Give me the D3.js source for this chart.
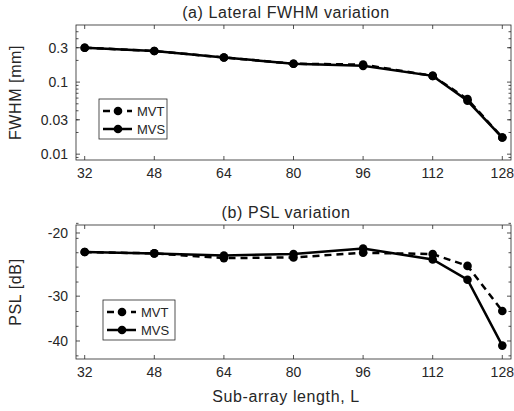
<!DOCTYPE html>
<html>
<head>
<meta charset="utf-8">
<script src="https://cdn.jsdelivr.net/npm/d3@7"></script>
<style>
  body { margin: 0; background: #fff; }
  text { font-family: "Liberation Sans", Arial, sans-serif; fill: #262626; }
  .lbl { font-size: 16px; letter-spacing: 0.6px; }
</style>
</head>
<body>
<div id="chart"></div>
<script>
'use strict';

// sub-array lengths
var lengths = [32, 48, 64, 80, 96, 112, 120, 128];
var xTicks = [32, 48, 64, 80, 96, 112, 128];

// (a) lateral FWHM [mm]
var fwhmMVT = [0.30, 0.27, 0.22, 0.18, 0.175, 0.122, 0.058, 0.017];
var fwhmMVS = [0.30, 0.27, 0.22, 0.18, 0.168, 0.122, 0.055, 0.017];
var fwhmTicks = [0.01, 0.03, 0.1, 0.3];
var fwhmTickLabels = ['0.01', '0.03', '0.1', '0.3'];

// (b) PSL [dB]
var pslMVT = [-22.6, -22.8, -23.5, -23.4, -22.7, -22.9, -24.7, -33.0];
var pslMVS = [-22.6, -22.8, -23.1, -22.9, -22.1, -23.7, -27.0, -41.2];
var pslTicks = [-20, -30, -40];
var pslMinor = [-18.8, -20.7, -22.7, -24.9, -27.4, -33.1, -36.4, -44];

var W = 514, H = 411;
var left = 76, right = 511;
var labelX = 286;

var svg = d3.select('#chart').append('svg')
  .attr('width', W)
  .attr('height', H);

var x = d3.scaleLinear().domain([30, 130]).range([left, right]);

function drawPanel(opt) {
  var top = opt.top, bottom = opt.bottom;
  var y = opt.y.range([bottom, top]);
  var g = svg.append('g');

  // ticks (inside, box on)
  var tk = g.append('g').attr('stroke', '#262626').attr('stroke-width', 0.8);
  xTicks.forEach(function (t) {
    tk.append('line').attr('x1', x(t)).attr('x2', x(t)).attr('y1', bottom).attr('y2', bottom - 4);
    tk.append('line').attr('x1', x(t)).attr('x2', x(t)).attr('y1', top).attr('y2', top + 4);
  });
  opt.ticks.forEach(function (t) {
    tk.append('line').attr('x1', left).attr('x2', left + 4).attr('y1', y(t)).attr('y2', y(t));
    tk.append('line').attr('x1', right).attr('x2', right - 4).attr('y1', y(t)).attr('y2', y(t));
  });
  opt.minor.forEach(function (t) {
    tk.append('line').attr('x1', left).attr('x2', left + 2.5).attr('y1', y(t)).attr('y2', y(t));
    tk.append('line').attr('x1', right).attr('x2', right - 2.5).attr('y1', y(t)).attr('y2', y(t));
  });

  g.append('rect')
    .attr('x', left).attr('y', top)
    .attr('width', right - left).attr('height', bottom - top)
    .attr('fill', 'none').attr('stroke', '#262626').attr('stroke-width', 0.8);

  // tick labels
  g.selectAll('.xl').data(xTicks).enter().append('text')
    .attr('x', function (d) { return x(d); })
    .attr('y', bottom + 18)
    .attr('text-anchor', 'middle')
    .style('font-size', '14px')
    .text(function (d) { return d; });
  g.selectAll('.yl').data(opt.ticks).enter().append('text')
    .attr('x', left - 8)
    .attr('y', function (d) { return y(d) + 5; })
    .attr('text-anchor', 'end')
    .style('font-size', '14px')
    .text(function (d, i) { return opt.labels[i]; });

  g.append('text')
    .attr('class', 'lbl')
    .attr('x', labelX)
    .attr('y', top - 7)
    .attr('text-anchor', 'middle')
    .text(opt.title);

  g.append('text')
    .attr('class', 'lbl')
    .attr('transform', 'translate(' + 21 + ',' + (top + bottom) / 2 + ') rotate(-90)')
    .attr('text-anchor', 'middle')
    .text(opt.ylabel);

  var line = d3.line()
    .x(function (d, i) { return x(lengths[i]); })
    .y(function (d) { return y(d); });

  [{ v: opt.mvt, dash: '7,5' }, { v: opt.mvs, dash: null }].forEach(function (s) {
    g.append('path')
      .attr('d', line(s.v))
      .attr('fill', 'none')
      .attr('stroke', '#000')
      .attr('stroke-width', 2.5)
      .attr('stroke-dasharray', s.dash);
    g.selectAll(null).data(s.v).enter().append('circle')
      .attr('cx', function (d, i) { return x(lengths[i]); })
      .attr('cy', function (d) { return y(d); })
      .attr('r', 4.3)
      .attr('fill', '#000');
  });

  // legend
  var L = opt.legend;
  var lg = g.append('g').attr('transform', 'translate(' + L.x + ',' + L.y + ')');
  lg.append('rect').attr('width', L.w).attr('height', 40)
    .attr('fill', '#fff').attr('stroke', '#262626').attr('stroke-width', 0.8);
  [['MVT', '7,5', 12], ['MVS', null, 30]].forEach(function (e) {
    lg.append('line').attr('x1', 4).attr('x2', 33).attr('y1', e[2]).attr('y2', e[2])
      .attr('stroke', '#000').attr('stroke-width', 2.5).attr('stroke-dasharray', e[1]);
    lg.append('circle').attr('cx', 19).attr('cy', e[2]).attr('r', 4.3).attr('fill', '#000');
    lg.append('text').attr('x', 38).attr('y', e[2] + 5).style('font-size', '13px').text(e[0]);
  });
}

var fwhmMinor = [];
[0.001, 0.01, 0.1].forEach(function (dec) {
  for (var k = 2; k <= 9; k++) {
    var v = dec * k;
    if (v > 0.008 && v < 0.6) fwhmMinor.push(v);
  }
});

drawPanel({
  top: 25, bottom: 160,
  y: d3.scaleLog().domain([0.0083, 0.62]),
  ticks: fwhmTicks, labels: fwhmTickLabels, minor: fwhmMinor,
  mvt: fwhmMVT, mvs: fwhmMVS,
  title: '(a) Lateral FWHM variation',
  ylabel: 'FWHM [mm]',
  legend: { x: 99, y: 99, w: 68 }
});

drawPanel({
  top: 225, bottom: 359,
  y: d3.scaleLog().domain([-44.9, -19.0]),
  ticks: pslTicks, labels: pslTicks.map(String), minor: pslMinor,
  mvt: pslMVT, mvs: pslMVS,
  title: '(b) PSL variation',
  ylabel: 'PSL [dB]',
  legend: { x: 103, y: 300, w: 72 }
});

svg.append('text')
  .attr('class', 'lbl')
  .attr('x', labelX)
  .attr('y', 402)
  .attr('text-anchor', 'middle')
  .text('Sub-array length, L');
</script>
</body>
</html>
